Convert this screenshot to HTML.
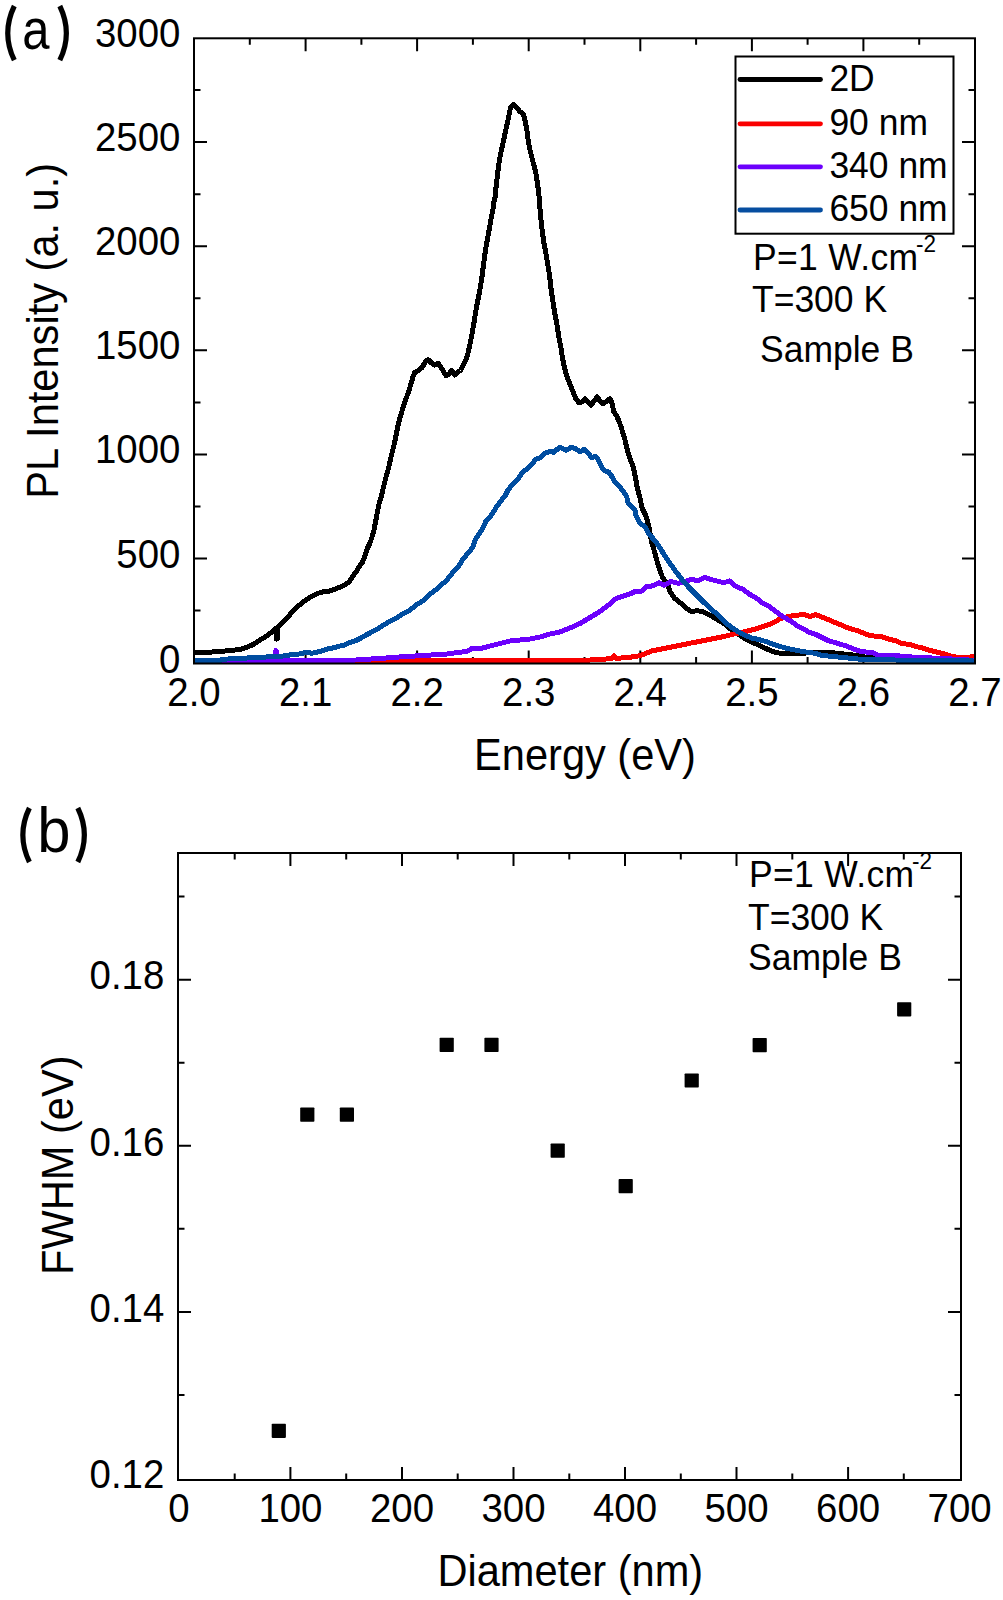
<!DOCTYPE html><html><head><meta charset="utf-8"><style>
html,body{margin:0;padding:0;background:#fff;}
svg{display:block;}
text{font-family:"Liberation Sans",sans-serif;fill:#000;}
</style></head><body>
<svg width="1003" height="1600" viewBox="0 0 1003 1600">
<rect x="0" y="0" width="1003" height="1600" fill="#fff"/>
<path d="M249.8,663.5 v-6.5 M249.8,38.3 v6.5 M305.6,663.5 v-13 M305.6,38.3 v13 M361.4,663.5 v-6.5 M361.4,38.3 v6.5 M417.1,663.5 v-13 M417.1,38.3 v13 M472.9,663.5 v-6.5 M472.9,38.3 v6.5 M528.7,663.5 v-13 M528.7,38.3 v13 M584.5,663.5 v-6.5 M584.5,38.3 v6.5 M640.3,663.5 v-13 M640.3,38.3 v13 M696.1,663.5 v-6.5 M696.1,38.3 v6.5 M751.9,663.5 v-13 M751.9,38.3 v13 M807.6,663.5 v-6.5 M807.6,38.3 v6.5 M863.4,663.5 v-13 M863.4,38.3 v13 M919.2,663.5 v-6.5 M919.2,38.3 v6.5 M194.0,610.6 h6.5 M975.0,610.6 h-6.5 M194.0,558.5 h13 M975.0,558.5 h-13 M194.0,506.5 h6.5 M975.0,506.5 h-6.5 M194.0,454.4 h13 M975.0,454.4 h-13 M194.0,402.4 h6.5 M975.0,402.4 h-6.5 M194.0,350.3 h13 M975.0,350.3 h-13 M194.0,298.3 h6.5 M975.0,298.3 h-6.5 M194.0,246.2 h13 M975.0,246.2 h-13 M194.0,194.2 h6.5 M975.0,194.2 h-6.5 M194.0,142.1 h13 M975.0,142.1 h-13 M194.0,90.1 h6.5 M975.0,90.1 h-6.5" stroke="#000" stroke-width="2" fill="none"/>
<defs><filter id="bl" x="-5%" y="-5%" width="110%" height="110%"><feGaussianBlur stdDeviation="0.45"/></filter></defs>
<g fill="none" stroke-width="5" stroke-linejoin="round" stroke-linecap="round" shape-rendering="crispEdges" filter="url(#bl)">
<path d="M195.5,652.5 L205.0,652.5 L220.0,651.5 L230.0,650.5 L240.0,649.5 L245.0,648.0 L250.0,646.0 L255.0,643.5 L260.0,640.0 L265.0,637.0 L270.0,633.5 L274.0,630.0 L275.8,628.5 L276.2,639.0 L277.4,639.0 L277.8,627.0 L282.0,623.0 L286.0,619.0 L290.0,614.5 L295.5,608.3 L301.0,603.9 L306.5,599.5 L311.9,596.2 L317.4,593.5 L322.9,591.8 L328.4,591.5 L333.9,589.6 L339.4,587.4 L344.8,584.7 L349.2,581.9 L352.5,576.5 L355.8,572.1 L359.1,567.1 L362.4,562.2 L365.0,556.0 L367.0,549.0 L370.0,543.0 L372.0,537.0 L374.0,530.0 L376.7,515.7 L379.1,503.7 L381.5,495.8 L383.9,485.4 L386.3,475.8 L388.7,467.8 L390.3,459.9 L392.3,451.9 L394.3,443.9 L395.9,435.9 L397.7,427.1 L400.4,416.3 L403.1,407.3 L405.8,399.2 L408.5,392.1 L410.7,384.9 L413.0,376.8 L414.7,372.3 L418.3,370.5 L421.9,367.8 L425.5,361.5 L428.2,359.7 L431.8,363.3 L434.5,365.1 L438.1,363.3 L440.8,366.9 L443.5,371.4 L446.2,375.9 L448.9,374.1 L451.6,370.5 L454.7,375.0 L457.8,372.3 L460.5,370.5 L463.2,365.1 L465.9,359.7 L467.7,354.4 L468.9,349.0 L471.7,335.9 L474.1,321.8 L476.4,307.8 L479.2,293.7 L481.6,279.7 L483.4,265.6 L485.3,251.5 L487.2,240.3 L489.1,230.0 L490.9,219.7 L492.8,210.3 L494.2,200.0 L495.0,197.7 L496.2,185.7 L497.8,172.1 L499.4,160.2 L501.3,150.6 L503.3,141.8 L505.3,132.3 L507.3,123.5 L508.9,115.5 L510.5,107.5 L513.3,104.4 L516.9,107.5 L520.1,111.9 L523.3,113.9 L525.3,121.9 L526.9,129.9 L528.1,139.4 L529.7,149.0 L532.0,157.8 L534.0,165.8 L536.0,173.7 L537.2,181.7 L538.4,190.5 L539.6,201.6 L540.2,212.2 L541.8,227.6 L543.8,242.2 L545.8,252.8 L547.5,263.4 L549.5,274.7 L551.1,289.4 L553.2,303.2 L554.8,313.7 L556.8,323.5 L557.5,328.0 L559.0,338.0 L561.0,348.0 L562.5,358.0 L564.5,368.0 L567.0,377.0 L570.0,384.0 L573.0,392.0 L576.0,399.0 L579.0,403.0 L582.0,402.0 L585.0,399.0 L588.0,401.5 L591.0,405.0 L594.0,401.0 L597.0,397.0 L600.0,401.0 L603.0,404.0 L607.0,401.0 L610.0,398.5 L612.0,403.0 L613.6,411.2 L616.6,416.0 L619.0,421.0 L621.4,428.0 L623.2,433.9 L625.0,439.9 L626.4,445.9 L627.9,451.9 L629.7,457.8 L632.1,463.8 L633.9,469.8 L635.1,475.8 L636.3,481.8 L637.2,487.8 L640.0,498.0 L642.0,508.0 L646.0,516.0 L648.5,525.0 L650.0,533.0 L651.5,542.0 L654.0,550.0 L656.7,560.0 L659.7,569.6 L662.7,577.9 L667.5,583.9 L669.9,591.1 L674.7,598.3 L680.7,603.1 L685.5,607.8 L691.4,611.4 L697.4,610.8 L702.2,611.4 L707.0,613.8 L711.8,616.2 L717.8,619.8 L723.7,623.4 L730.9,629.4 L738.1,634.2 L745.3,639.0 L752.4,642.5 L759.6,645.5 L767.9,649.4 L773.9,651.8 L779.9,653.2 L785.9,653.6 L797.8,653.9 L809.8,652.6 L821.8,652.0 L835.0,653.0 L851.7,654.8 L869.6,657.8 L930.0,659.5 L973.0,661.0" stroke="#000"/>
<path d="M196.0,661.0 L300.0,660.9 L400.0,660.9 L500.0,660.9 L560.0,660.7 L580.0,660.5 L600.0,659.5 L612.0,658.5 L614.0,656.0 L616.0,658.5 L630.0,657.2 L640.0,655.7 L652.0,650.9 L663.9,648.5 L675.9,646.1 L687.8,643.7 L699.8,641.3 L711.8,639.0 L723.7,636.6 L735.7,633.6 L745.3,631.6 L752.0,629.8 L756.0,629.0 L762.0,626.7 L767.9,624.9 L773.9,622.5 L779.9,618.9 L785.9,617.1 L791.9,615.9 L797.8,615.3 L802.6,614.1 L809.8,616.5 L815.8,614.7 L821.8,617.1 L827.8,619.5 L833.7,621.9 L839.7,624.3 L845.7,627.2 L851.7,629.0 L857.7,630.8 L863.6,633.2 L869.6,635.6 L872.0,635.9 L881.5,636.5 L889.9,639.5 L895.9,640.7 L901.9,643.7 L910.2,644.3 L916.2,646.7 L922.2,647.8 L929.4,650.2 L936.6,652.0 L943.7,653.8 L950.9,656.2 L958.1,657.4 L967.7,658.0 L973.0,656.2" stroke="#fa0000"/>
<path d="M196.0,661.4 L270.0,661.2 L274.0,661.0 L276.0,650.5 L278.0,661.0 L300.0,660.8 L356.0,660.0 L395.0,657.4 L403.0,656.6 L418.9,655.8 L430.9,655.0 L442.8,654.6 L450.8,653.5 L458.8,652.3 L466.8,651.5 L471.6,648.7 L480.0,648.8 L490.0,646.0 L500.0,643.5 L510.0,641.0 L520.0,640.0 L530.0,639.0 L540.0,637.0 L550.0,634.0 L560.0,632.0 L570.0,628.0 L580.0,623.5 L590.0,617.5 L600.0,611.5 L610.0,604.0 L615.0,599.0 L625.0,595.5 L630.0,594.0 L636.0,591.0 L642.0,591.0 L646.0,586.5 L652.0,586.0 L659.1,582.7 L663.9,585.2 L671.1,581.5 L678.3,583.3 L685.5,581.5 L691.4,579.1 L697.4,580.9 L704.6,577.3 L711.8,579.7 L718.9,581.5 L723.7,582.7 L729.7,580.9 L735.7,586.3 L742.9,589.3 L750.0,594.5 L756.0,597.9 L762.0,602.7 L767.9,605.7 L773.9,609.9 L779.9,614.7 L785.9,618.3 L791.9,621.9 L797.8,626.1 L803.8,629.0 L809.8,632.6 L815.8,634.4 L821.8,637.4 L827.8,640.4 L833.7,642.2 L839.7,644.0 L845.7,645.8 L851.7,648.2 L857.7,650.6 L863.6,651.8 L872.0,652.6 L878.0,655.0 L895.9,655.6 L907.8,656.8 L931.8,658.0 L943.7,658.6 L967.7,659.8 L973.0,660.5" stroke="#6c00fc"/>
<path d="M196.0,660.6 L220.0,660.6 L222.0,659.3 L246.8,658.0 L265.8,657.0 L284.7,655.9 L290.0,654.9 L301.0,653.8 L306.5,652.1 L311.9,653.3 L317.4,652.1 L322.9,650.5 L328.4,648.8 L333.9,647.7 L339.4,646.1 L344.8,645.0 L350.3,642.3 L355.8,640.6 L361.3,637.9 L366.8,634.6 L372.3,631.8 L377.7,629.1 L383.2,625.3 L388.7,622.0 L395.8,618.5 L403.0,613.6 L409.4,610.4 L416.5,604.8 L422.9,600.8 L429.3,594.4 L434.9,590.5 L440.5,585.7 L446.8,580.1 L452.4,572.9 L458.0,567.3 L462.8,559.4 L468.2,553.0 L473.0,547.0 L475.0,540.0 L479.0,534.0 L483.0,528.0 L486.0,521.0 L490.0,517.0 L494.0,511.0 L497.0,506.0 L500.0,502.0 L505.0,496.0 L508.0,490.0 L513.0,484.0 L518.0,479.0 L522.0,473.0 L528.0,468.0 L532.0,464.0 L536.0,459.0 L540.0,458.0 L545.0,453.0 L550.0,451.5 L554.0,452.3 L559.6,447.1 L566.0,450.3 L571.5,447.1 L576.3,449.1 L580.3,451.9 L584.3,449.1 L588.3,453.1 L591.5,457.5 L595.5,456.3 L598.6,460.3 L601.0,465.9 L604.2,470.7 L609.0,472.3 L612.2,477.0 L615.4,482.6 L619.4,486.6 L623.4,491.4 L626.6,496.2 L628.0,503.0 L635.0,510.0 L636.0,516.0 L640.0,523.0 L645.0,527.0 L649.0,534.0 L656.0,542.0 L660.0,548.0 L666.3,558.0 L673.5,568.4 L680.7,577.9 L687.8,586.3 L695.0,593.5 L702.2,600.7 L709.4,607.8 L716.6,613.8 L723.7,621.0 L730.9,627.0 L738.1,631.8 L745.3,635.4 L752.4,638.2 L756.0,638.8 L762.0,640.4 L767.9,642.2 L773.9,644.6 L779.9,646.4 L785.9,648.2 L791.9,649.4 L797.8,650.6 L803.8,651.8 L809.8,652.4 L815.8,653.6 L821.8,655.4 L833.7,656.6 L845.7,657.8 L857.7,659.0 L869.6,659.5 L920.0,660.5 L973.0,661.0" stroke="#064ea0"/>
</g>
<rect x="194.0" y="38.3" width="781.0" height="625.2" fill="none" stroke="#000" stroke-width="2"/>
<rect x="735.5" y="56.5" width="218" height="177.2" fill="#fff" stroke="#000" stroke-width="2"/>
<line x1="740" y1="79.5" x2="820.5" y2="79.5" stroke="#000" stroke-width="4.8" stroke-linecap="round"/>
<text transform="translate(829.40,90.70) scale(0.985,1.025)" font-size="36">2D</text>
<line x1="740" y1="123.8" x2="820.5" y2="123.8" stroke="#fa0000" stroke-width="4.8" stroke-linecap="round"/>
<text transform="translate(829.40,135.00) scale(0.985,1.025)" font-size="36">90 nm</text>
<line x1="740" y1="166.8" x2="820.5" y2="166.8" stroke="#6c00fc" stroke-width="4.8" stroke-linecap="round"/>
<text transform="translate(829.40,178.00) scale(0.985,1.025)" font-size="36">340 nm</text>
<line x1="740" y1="210" x2="820.5" y2="210" stroke="#064ea0" stroke-width="4.8" stroke-linecap="round"/>
<text transform="translate(829.40,221.20) scale(0.985,1.025)" font-size="36">650 nm</text>
<text transform="translate(753.00,269.50) scale(1.0,1.05)" font-size="35.5" letter-spacing="0.35">P=1 W.cm<tspan dy="-16.5" dx="-2.5" font-size="22.5" letter-spacing="0">-2</tspan></text>
<text transform="translate(752.00,312.30) scale(1.0,1.05)" font-size="35.5">T=300 K</text>
<text transform="translate(760.00,361.60) scale(1.0,1.05)" font-size="35.5">Sample B</text>
<text transform="translate(180.40,672.80) scale(0.985,1.055)" font-size="39" text-anchor="end">0</text>
<text transform="translate(180.40,567.50) scale(0.985,1.055)" font-size="39" text-anchor="end">500</text>
<text transform="translate(180.40,463.40) scale(0.985,1.055)" font-size="39" text-anchor="end">1000</text>
<text transform="translate(180.40,359.30) scale(0.985,1.055)" font-size="39" text-anchor="end">1500</text>
<text transform="translate(180.40,255.20) scale(0.985,1.055)" font-size="39" text-anchor="end">2000</text>
<text transform="translate(180.40,151.10) scale(0.985,1.055)" font-size="39" text-anchor="end">2500</text>
<text transform="translate(180.40,47.00) scale(0.985,1.055)" font-size="39" text-anchor="end">3000</text>
<text transform="translate(194.00,706.00) scale(0.985,1.055)" font-size="39" text-anchor="middle">2.0</text>
<text transform="translate(305.57,706.00) scale(0.985,1.055)" font-size="39" text-anchor="middle">2.1</text>
<text transform="translate(417.14,706.00) scale(0.985,1.055)" font-size="39" text-anchor="middle">2.2</text>
<text transform="translate(528.71,706.00) scale(0.985,1.055)" font-size="39" text-anchor="middle">2.3</text>
<text transform="translate(640.28,706.00) scale(0.985,1.055)" font-size="39" text-anchor="middle">2.4</text>
<text transform="translate(751.85,706.00) scale(0.985,1.055)" font-size="39" text-anchor="middle">2.5</text>
<text transform="translate(863.42,706.00) scale(0.985,1.055)" font-size="39" text-anchor="middle">2.6</text>
<text transform="translate(974.99,706.00) scale(0.985,1.055)" font-size="39" text-anchor="middle">2.7</text>
<text transform="translate(585.00,769.50) scale(1.0,1.045)" font-size="41.6" text-anchor="middle">Energy (eV)</text>
<text transform="translate(57.50,330.80) rotate(-90) scale(1.0,1.045)" font-size="41.6" text-anchor="middle">PL Intensity (a. u.)</text>
<path d="M14.3,6 Q1.2,33.2 14.3,60.2 M59.8,6 Q72.9,33.2 59.8,60.2" fill="none" stroke="#000" stroke-width="5.2"/>
<text transform="translate(22.20,49.40) scale(0.86,1.0)" font-size="57">a</text>
<rect x="178.0" y="853.0" width="783.0" height="627.0" fill="none" stroke="#000" stroke-width="2"/><path d="M234.7,1480.0 v-6.5 M234.7,853.0 v6.5 M290.4,1480.0 v-13 M290.4,853.0 v13 M346.2,1480.0 v-6.5 M346.2,853.0 v6.5 M402.0,1480.0 v-13 M402.0,853.0 v13 M457.7,1480.0 v-6.5 M457.7,853.0 v6.5 M513.5,1480.0 v-13 M513.5,853.0 v13 M569.3,1480.0 v-6.5 M569.3,853.0 v6.5 M625.0,1480.0 v-13 M625.0,853.0 v13 M680.8,1480.0 v-6.5 M680.8,853.0 v6.5 M736.5,1480.0 v-13 M736.5,853.0 v13 M792.3,1480.0 v-6.5 M792.3,853.0 v6.5 M848.1,1480.0 v-13 M848.1,853.0 v13 M903.8,1480.0 v-6.5 M903.8,853.0 v6.5 M178.0,1394.9 h6.5 M961.0,1394.9 h-6.5 M178.0,1311.9 h13 M961.0,1311.9 h-13 M178.0,1228.8 h6.5 M961.0,1228.8 h-6.5 M178.0,1145.8 h13 M961.0,1145.8 h-13 M178.0,1062.8 h6.5 M961.0,1062.8 h-6.5 M178.0,979.7 h13 M961.0,979.7 h-13 M178.0,896.6 h6.5 M961.0,896.6 h-6.5" stroke="#000" stroke-width="2" fill="none"/>
<rect x="271.7" y="1423.7" width="14.2" height="14.2" rx="0.8" fill="#000"/>
<rect x="300.2" y="1107.5" width="14.2" height="14.2" rx="0.8" fill="#000"/>
<rect x="339.8" y="1107.5" width="14.2" height="14.2" rx="0.8" fill="#000"/>
<rect x="439.6" y="1037.8" width="14.2" height="14.2" rx="0.8" fill="#000"/>
<rect x="484.4" y="1037.8" width="14.2" height="14.2" rx="0.8" fill="#000"/>
<rect x="550.6" y="1143.5" width="14.2" height="14.2" rx="0.8" fill="#000"/>
<rect x="618.6" y="1179.1" width="14.2" height="14.2" rx="0.8" fill="#000"/>
<rect x="684.6" y="1073.4" width="14.2" height="14.2" rx="0.8" fill="#000"/>
<rect x="752.6" y="1038.0" width="14.2" height="14.2" rx="0.8" fill="#000"/>
<rect x="897.1" y="1002.2" width="14.2" height="14.2" rx="0.8" fill="#000"/>
<text transform="translate(164.30,1487.70) scale(0.985,1.055)" font-size="39" text-anchor="end">0.12</text>
<text transform="translate(164.30,1321.60) scale(0.985,1.055)" font-size="39" text-anchor="end">0.14</text>
<text transform="translate(164.30,1155.50) scale(0.985,1.055)" font-size="39" text-anchor="end">0.16</text>
<text transform="translate(164.30,989.40) scale(0.985,1.055)" font-size="39" text-anchor="end">0.18</text>
<text transform="translate(178.90,1522.00) scale(0.985,1.055)" font-size="39" text-anchor="middle">0</text>
<text transform="translate(290.43,1522.00) scale(0.985,1.055)" font-size="39" text-anchor="middle">100</text>
<text transform="translate(401.96,1522.00) scale(0.985,1.055)" font-size="39" text-anchor="middle">200</text>
<text transform="translate(513.49,1522.00) scale(0.985,1.055)" font-size="39" text-anchor="middle">300</text>
<text transform="translate(625.02,1522.00) scale(0.985,1.055)" font-size="39" text-anchor="middle">400</text>
<text transform="translate(736.55,1522.00) scale(0.985,1.055)" font-size="39" text-anchor="middle">500</text>
<text transform="translate(848.08,1522.00) scale(0.985,1.055)" font-size="39" text-anchor="middle">600</text>
<text transform="translate(959.61,1522.00) scale(0.985,1.055)" font-size="39" text-anchor="middle">700</text>
<text transform="translate(570.30,1586.20) scale(1.0,1.045)" font-size="41.6" text-anchor="middle">Diameter (nm)</text>
<text transform="translate(73.00,1165.20) rotate(-90) scale(1.0,1.045)" font-size="41.6" text-anchor="middle">FWHM (eV)</text>
<path d="M29.4,808 Q16.3,835 29.4,862 M77.8,808 Q90.9,835 77.8,862" fill="none" stroke="#000" stroke-width="5.2"/>
<text transform="translate(37.30,852.20) scale(0.956,1.0)" font-size="62.5">b</text>
<text transform="translate(749.00,886.70) scale(1.0,1.05)" font-size="35.5" letter-spacing="0.35">P=1 W.cm<tspan dy="-16.5" dx="-2.5" font-size="22.5" letter-spacing="0">-2</tspan></text>
<text transform="translate(748.00,930.30) scale(1.0,1.05)" font-size="35.5">T=300 K</text>
<text transform="translate(748.00,969.70) scale(1.0,1.05)" font-size="35.5">Sample B</text>
</svg></body></html>
